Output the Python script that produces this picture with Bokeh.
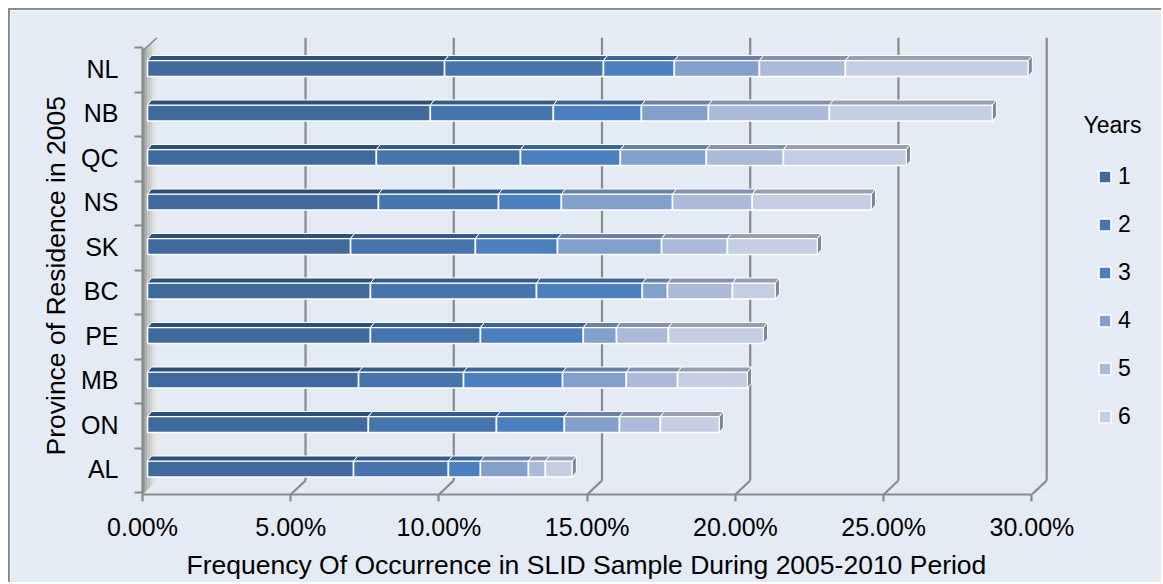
import numpy as np
from bokeh.plotting import figure
from bokeh.models import (Range1d, LinearAxis, FixedTicker, Legend, LegendItem,
                          ColumnDataSource, Title)
from bokeh.embed import file_html
from bokeh.resources import INLINE
from bokeh.core.properties import value

# ---------------- data (percent) ----------------
provinces = ["AL", "ON", "MB", "PE", "BC", "SK", "NS", "QC", "NB", "NL"]  # bottom -> top
year1 = [6.95, 7.45, 7.12, 7.52, 7.52, 6.85, 7.79, 7.72, 9.54, 10.02]
year2 = [3.20, 4.32, 3.54, 3.71, 5.60, 4.21, 4.05, 4.86, 4.15, 5.36]
year3 = [1.08, 2.29, 3.34, 3.47, 3.57, 2.77, 2.12, 3.37, 2.97, 2.39]
year4 = [1.62, 1.86, 2.15, 1.12, 0.85, 3.51, 3.75, 2.90, 2.26, 2.87]
year5 = [0.57, 1.38, 1.73, 1.75, 2.19, 2.22, 2.69, 2.60, 4.08, 2.90]
year6 = [0.91, 1.99, 2.36, 3.21, 1.45, 3.04, 4.02, 4.15, 5.50, 6.17]
years = ["1", "2", "3", "4", "5", "6"]
x_ticks = [0, 5, 10, 15, 20, 25, 30]
x_tick_labels = ["0.00%", "5.00%", "10.00%", "15.00%", "20.00%", "25.00%", "30.00%"]

series = [year1, year2, year3, year4, year5, year6]

# ---------------- styles ----------------
BG = "#E4EBF5"
face_colors = ["#3F6A9B", "#4674AC", "#4B7FBD", "#839FCB", "#AABAD8", "#C4CFE3"]
top_colors = ["#2E5078", "#355B8B", "#3A659B", "#6A80A5", "#8492AD", "#979FB0"]
END_COLOR = "#7E8698"
GRID = "#8A8A8A"
FONT = "Liberation Sans"

# geometry helpers (in data units)
X0, X1 = -0.169, 34.27          # main range (bars)
Y0, Y1 = -0.573, 9.697
FRONT = -0.169                   # front plane x-offset
BACK = 0.33                      # back plane x-offset
DYB = 0.315                      # back plane y lift
H = 0.36                         # bar thickness
DX, DY = 0.135, 0.112            # bar 3-D top face offset

p = figure(width=1153, height=574, output_backend="svg", toolbar_location=None,
           x_range=Range1d(X0, X1), y_range=Range1d(Y0, Y1),
           background_fill_color=BG, border_fill_color=BG,
           min_border_left=132, min_border_top=27, min_border_bottom=90,
           min_border_right=0, outline_line_color=None,
           x_axis_location=None, y_axis_location=None)
p.styles = {"margin-left": "8px", "margin-top": "8px",
            "border-left": "2px solid #8C8C8C", "border-top": "2px solid #8C8C8C"}
p.xgrid.visible = False
p.ygrid.visible = False
p.extra_x_ranges = {"front": Range1d(X0 - FRONT, X1 - FRONT)}

# ---------------- walls & gridlines ----------------
nstr = 6
wall_grays = ["#9A9A9A", "#ADADAD", "#C0C0C0", "#D0D0D0", "#DDDDDD", "#E8E8E8"]
wxs, wys = [], []
for k in range(nstr):
    f0, f1 = k / nstr, (k + 1) / nstr
    xa, xb = FRONT + (BACK - FRONT) * f0, FRONT + (BACK - FRONT) * f1
    wxs.append([xa, xb, xb, xa])
    wys.append([Y0 + DYB * f0, Y0 + DYB * f1, 9.40 + (Y1 - 9.40) * f1, 9.40 + (Y1 - 9.40) * f0])
p.patches(wxs, wys, fill_color=wall_grays, line_color=None)
p.line([FRONT, BACK], [9.40, Y1], line_color=GRID, line_width=1.5)

gx = [v + BACK for v in x_ticks[1:]]
p.segment(x0=gx, y0=[Y0 + DYB] * len(gx), x1=gx, y1=[Y1] * len(gx),
          line_color=GRID, line_width=2.2)
p.segment(x0=[v + FRONT for v in x_ticks[1:]], y0=[Y0] * len(gx),
          x1=gx, y1=[Y0 + DYB] * len(gx), line_color=GRID, line_width=2.2)

# ---------------- bars ----------------
ypos = np.arange(len(provinces), dtype=float)
cum = np.zeros(len(provinces))
face_renderers = []
for j, vals in enumerate(series):
    vals = np.array(vals)
    left = cum.copy()
    right = cum + vals
    src = ColumnDataSource(dict(y=ypos, left=left, right=right))
    r = p.hbar(y="y", left="left", right="right", height=H, source=src,
               fill_color=face_colors[j], line_color="white", line_width=1.6)
    face_renderers.append(r)
    txs = [[l, rr, rr + DX, l + DX] for l, rr in zip(left, right)]
    tys = [[y + H / 2, y + H / 2, y + H / 2 + DY, y + H / 2 + DY] for y in ypos]
    p.patches(txs, tys, fill_color=top_colors[j], line_color="white", line_width=1.0)
    cum = right

exs = [[rr, rr + DX, rr + DX, rr] for rr in cum]
eys = [[y - H / 2, y - H / 2 + DY, y + H / 2 + DY, y + H / 2] for y in ypos]
p.patches(exs, eys, fill_color=END_COLOR, line_color="white", line_width=1.0)

# ---------------- axes ----------------
xaxis = LinearAxis(x_range_name="front", bounds=(0, 30),
                   ticker=FixedTicker(ticks=x_ticks, minor_ticks=[]))
xaxis.major_label_overrides = {t: s for t, s in zip(x_ticks, x_tick_labels)}
xaxis.axis_line_color = GRID
xaxis.axis_line_width = 2.2
xaxis.major_tick_line_color = GRID
xaxis.major_tick_line_width = 2.2
xaxis.major_tick_out = 7
xaxis.major_tick_in = 0
xaxis.minor_tick_line_color = None
xaxis.major_label_standoff = 11
xaxis.major_label_text_font = FONT
xaxis.major_label_text_font_size = "25px"
xaxis.major_label_text_color = "black"
p.add_layout(xaxis, "below")

xtitle = Title(text="Frequency Of Occurrence in SLID Sample During 2005-2010 Period",
               align="left", offset=44, text_font=FONT, text_font_size="26.5px",
               text_font_style="normal", text_color="black", standoff=8)
p.add_layout(xtitle, "below")

yaxis = LinearAxis(bounds=(Y0, 9.47),
                   ticker=FixedTicker(ticks=list(range(len(provinces))),
                                      minor_ticks=[i + 0.47 for i in range(-1, len(provinces))]))
yaxis.major_label_overrides = {i: s for i, s in enumerate(provinces)}
yaxis.axis_line_color = GRID
yaxis.axis_line_width = 2.2
yaxis.major_tick_line_color = None
yaxis.major_tick_out = 8
yaxis.major_tick_in = 0
yaxis.minor_tick_line_color = GRID
yaxis.minor_tick_line_width = 2.2
yaxis.minor_tick_out = 8
yaxis.minor_tick_in = 0
yaxis.major_label_standoff = 16
yaxis.major_label_text_font = FONT
yaxis.major_label_text_font_size = "25px"
yaxis.major_label_text_color = "black"
p.add_layout(yaxis, "left")

ytitle = Title(text="Province of Residence in 2005", align="left", offset=39,
               text_font=FONT, text_font_size="26.5px", text_font_style="normal",
               text_color="black", standoff=14)
p.add_layout(ytitle, "left")

# ---------------- legend ----------------
p.text(x=[31.57], y=[7.74], text=["Years"], text_font=value(FONT),
       text_font_size="23px", text_color="black", text_baseline="middle", text_align="left")
legend = Legend(items=[LegendItem(label=years[j], renderers=[face_renderers[j]])
                       for j in range(len(years))],
                location=(955, 64), orientation="vertical",
                background_fill_alpha=0, border_line_color=None,
                glyph_width=15, glyph_height=15, label_standoff=6,
                label_text_font=FONT, label_text_font_size="23px",
                label_text_color="black", spacing=21, padding=0, margin=0)
p.add_layout(legend, "center")

open("out.html", "w").write(file_html(p, INLINE))
